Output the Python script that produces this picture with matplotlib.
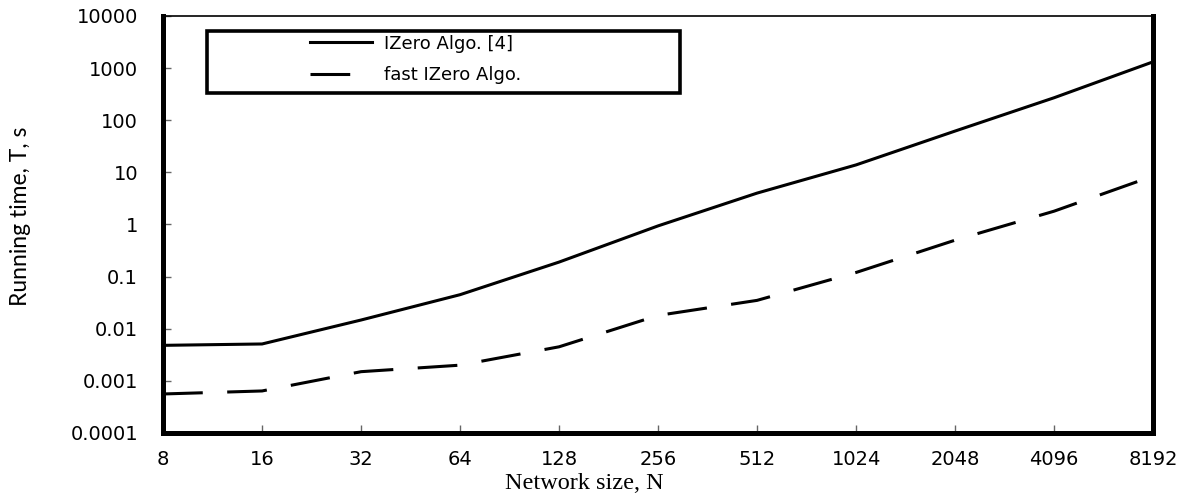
import matplotlib
matplotlib.use("Agg")
import matplotlib.pyplot as plt
from matplotlib.patches import Rectangle

# donnees
sizes = ["8", "16", "32", "64", "128", "256", "512", "1024", "2048", "4096", "8192"]
t_izero = [0.0048, 0.0051, 0.0147, 0.045, 0.19, 0.94, 4.0, 13.9, 62, 270, 1320]
t_fast = [0.00056, 0.00064, 0.0015, 0.002, 0.0045, 0.018, 0.035, 0.12, 0.5, 1.8, 8.5]
y_ticks = [0.0001, 0.001, 0.01, 0.1, 1, 10, 100, 1000, 10000]
y_labels = ["0.0001", "0.001", "0.01", "0.1", "1", "10", "100", "1000", "10000"]

fig = plt.figure(figsize=(11.99, 4.95), dpi=100)
ax = fig.add_axes([0.136, 0.1253, 0.8257, 0.8424])

x = list(range(len(sizes)))
ax.plot(x, t_izero, color="black", lw=2.2, label="IZero Algo. [4]")
ax.plot(x, t_fast, color="black", lw=2.2, linestyle=(0, (13, 8)), label="fast IZero Algo.")

ax.set_yscale("log")
ax.set_ylim(1e-4, 1e4)
ax.set_xlim(0, len(sizes) - 1)
ax.set_yticks(y_ticks)
ax.set_yticklabels(y_labels)
ax.minorticks_off()
ax.set_xticks(x)
ax.set_xticklabels(sizes)

ax.tick_params(axis="y", direction="in", length=6, width=1, color="#666666",
               pad=18, labelsize=14)
ax.tick_params(axis="x", direction="in", length=6, width=1, color="#666666",
               pad=12, labelsize=14)
for lab in ax.get_xticklabels() + ax.get_yticklabels():
    lab.set_family("DejaVu Sans")

for s in ["left", "bottom", "right"]:
    ax.spines[s].set_linewidth(3.6)
ax.spines["top"].set_linewidth(1.2)

ax.set_ylabel("Running time, T, s", family="Lato", fontsize=16.5)
ax.yaxis.set_label_coords(-0.133, 0.52)
ax.set_xlabel("Network size, N", family="Liberation Serif", fontsize=17.5)
ax.xaxis.set_label_coords(0.426, -0.095)

# cadre de la legende
ax.add_patch(Rectangle((0.0444, 0.815), 0.478, 0.149, transform=ax.transAxes,
                       fill=False, lw=2.6, edgecolor="black", zorder=5))
leg = ax.legend(loc="upper left", bbox_to_anchor=(0.1485, 0.955), frameon=False,
                borderpad=0, borderaxespad=0,
                handlelength=3.45, handletextpad=0.65, labelspacing=0.75,
                prop={"family": "DejaVu Sans", "size": 13})

fig.savefig("out.png", dpi=100)
